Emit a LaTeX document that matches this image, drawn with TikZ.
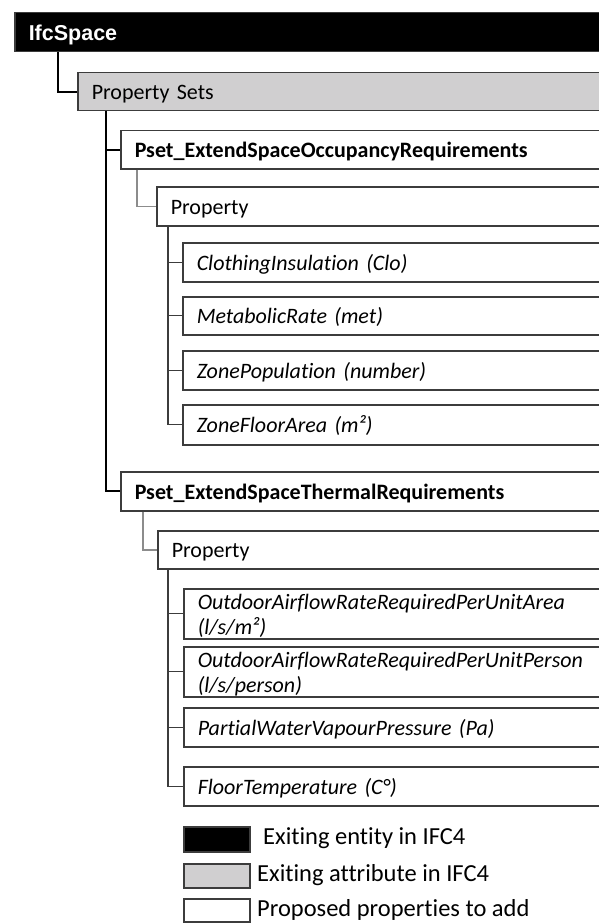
\documentclass[tikz,border=0pt]{standalone}
\usepackage{fontspec}
\setmainfont{Carlito}[Ligatures={NoCommon}]
\newfontfamily\headfont{Liberation Sans}
\definecolor{attrgray}{RGB}{208,207,208}
\definecolor{edgegray}{RGB}{60,60,60}
\definecolor{linkgray}{RGB}{140,140,140}
% struts fixing the height and depth of a text line
\newcommand\linestrut{\rule[-5pt]{0pt}{26pt}}
\newcommand\topstrut{\rule{0pt}{21pt}}
\newcommand\botstrut{\rule[-4pt]{0pt}{4pt}}
\tikzset{
  boxfont/.style={font=\fontsize{22}{25}\selectfont},
  box/.style={draw=edgegray, line width=1.5pt, anchor=north west, inner xsep=14pt, inner ysep=0pt,
    text width=640pt, align=left, boxfont},
  entitybox/.style={box, fill=black, text=white, font=\headfont\bfseries\fontsize{21.5}{24}\selectfont},
  attrbox/.style={box, fill=attrgray},
  propbox/.style={box, fill=white},
  psetbox/.style={propbox, font=\bfseries\fontsize{22}{25}\selectfont},
  itembox/.style={propbox, font=\itshape\fontsize{22}{25}\selectfont},
  keybox/.style={draw=edgegray, line width=1.5pt, anchor=north west, minimum width=66pt, inner sep=0pt},
  keytext/.style={anchor=west, inner sep=0pt, font=\fontsize{24.5}{26}\selectfont},
  mainlink/.style={draw=black, line width=2pt},
  sublink/.style={draw=linkgray, line width=1.5pt},
  leaflink/.style={draw=edgegray, line width=1.3pt},
}
\begin{document}
\begin{tikzpicture}[x=1pt,y=-1pt]
\useasboundingbox (0,0) rectangle (599,923);

% entity and property-set header
\node[entitybox, minimum height=39pt] (ifc) at (14,12) {\linestrut IfcSpace};
\node[attrbox, minimum height=38pt] (pss) at (77,72) {\linestrut Property Sets};

% occupancy requirements
\node[psetbox, minimum height=38pt] (pset1) at (120,130) {\linestrut Pset\_ExtendSpaceOccupancyRequirements};
\node[propbox, minimum height=39pt] (prop1) at (156,186) {\linestrut Property};
\node[itembox, minimum height=39pt] (clo) at (182,242) {\linestrut ClothingInsulation (Clo)};
\node[itembox, minimum height=38pt] (met) at (182,296) {\linestrut MetabolicRate (met)};
\node[itembox, minimum height=39pt] (pop) at (182,350) {\linestrut ZonePopulation (number)};
\node[itembox, minimum height=40pt] (area) at (182,404) {\linestrut ZoneFloorArea (m²)};

% thermal requirements
\node[psetbox, minimum height=39pt] (pset2) at (120,471) {\linestrut Pset\_ExtendSpaceThermalRequirements};
\node[propbox, minimum height=38pt] (prop2) at (157,530) {\linestrut Property};
\node[itembox, minimum height=48pt] (oaa) at (183,588) {\topstrut OutdoorAirflowRateRequiredPerUnitArea\\(l/s/m²)\botstrut};
\node[itembox, minimum height=49pt] (oap) at (183,646) {\topstrut OutdoorAirflowRateRequiredPerUnitPerson\\(l/s/person)\botstrut};
\node[itembox, minimum height=39pt] (pwv) at (183,707) {\linestrut PartialWaterVapourPressure (Pa)};
\node[itembox, minimum height=39pt] (ftemp) at (183,766) {\linestrut FloorTemperature (C°)};

% tree links
\draw[mainlink] ([xshift=44pt]ifc.south west) |- (pss.west);
\draw[mainlink] ([xshift=29pt]pss.south west) |- (pset1.west);
\draw[mainlink] ([xshift=29pt]pss.south west) |- (pset2.west);
\draw[sublink] ([xshift=17pt]pset1.south west) |- (prop1.west);
\draw[sublink] ([xshift=23pt]pset2.south west) |- (prop2.west);
\foreach \leaf in {clo,met,pop,area}
  \draw[leaflink] ([xshift=12pt]prop1.south west) |- (\leaf.west);
\foreach \leaf in {oaa,oap,pwv,ftemp}
  \draw[leaflink] ([xshift=11pt]prop2.south west) |- (\leaf.west);

% legend
\node[keybox, fill=black, minimum height=25pt] (kent) at (183,826) {};
\node[keybox, fill=attrgray, minimum height=24pt] (kattr) at (183,863) {};
\node[keybox, fill=white, minimum height=23pt] (kprop) at (183,898) {};
\node[keytext] (tent) at (263,838.5) {Exiting entity in IFC4};
\node[keytext] (tattr) at (257,875) {Exiting attribute in IFC4};
\node[keytext] (tprop) at (257,909.5) {Proposed properties to add};
\end{tikzpicture}
\end{document}
